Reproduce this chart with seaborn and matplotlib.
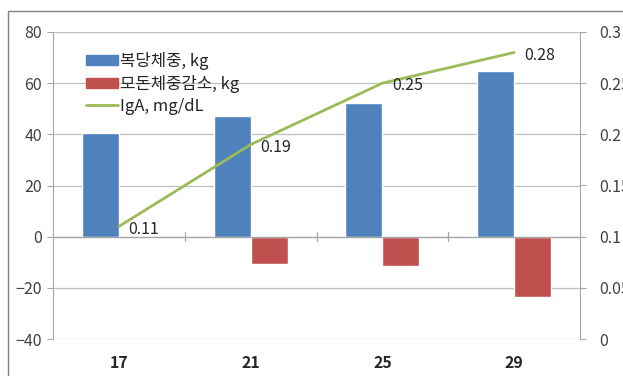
import numpy as np
import pandas as pd
import seaborn as sns
import matplotlib.pyplot as plt
from matplotlib.patches import Rectangle, Patch
from matplotlib.lines import Line2D

# values
days = ['17', '21', '25', '29']
gain = [40.5, 47, 52.3, 64.8]          # 복당체중, kg
sow_loss = [0, -10.5, -11.3, -23.4]    # 모돈체중감소, kg
iga = [0.11, 0.19, 0.25, 0.28]         # IgA, mg/dL

series_names = ['복당체중, kg', '모돈체중감소, kg', 'IgA, mg/dL']
blue, red, green = '#4F81BD', '#C0504D', '#9BBB59'

df = pd.DataFrame({
    'day': days * 2,
    'value': gain + sow_loss,
    'series': [series_names[0]] * 4 + [series_names[1]] * 4,
})

sns.set_style('white')
plt.rcParams['font.family'] = ['Noto Sans CJK KR', 'DejaVu Sans']

fig = plt.figure(figsize=(6.23, 3.76), dpi=100)
ax = fig.add_axes([53 / 623, 37 / 376, 527 / 623, 307 / 376])

sns.barplot(data=df, x='day', y='value', hue='series', order=days,
            palette=[blue, red], width=0.56, gap=0, saturation=1,
            legend=False, ax=ax)

ax.set_ylim(-40, 80)
ax.set_yticks(np.arange(-40, 81, 20))
ax.set_xlim(-0.5, 3.5)
ax.set_xlabel('')
ax.set_ylabel('')
ax.grid(axis='y', color='#BFBFBF', lw=0.9)
ax.set_axisbelow(True)
for s in ['top', 'right', 'bottom']:
    ax.spines[s].set_visible(False)
ax.spines['left'].set_color('#A6A6A6')
ax.tick_params(axis='y', left=True, length=4, color='#A6A6A6', labelsize=11.5,
               labelcolor='#404040', pad=4)
ax.tick_params(axis='x', bottom=False, labelsize=11.5, pad=8)
for lab in ax.get_xticklabels():
    lab.set_fontweight('bold')

# category axis drawn at zero with tick marks between categories
ax.axhline(0, color='#A6A6A6', lw=0.9, zorder=1)
for xb in [0.5, 1.5, 2.5]:
    ax.plot([xb, xb], [-1.8, 1.8], color='#A6A6A6', lw=0.9, zorder=1)

ax2 = ax.twinx()
sns.lineplot(x=np.arange(len(days)), y=iga, color=green, lw=2, ax=ax2)
ax2.set_ylim(0, 0.3)
ax2.set_yticks(np.arange(0, 0.31, 0.05))
ax2.set_yticklabels(['0', '0.05', '0.1', '0.15', '0.2', '0.25', '0.3'])
for s in ['top', 'left', 'bottom']:
    ax2.spines[s].set_visible(False)
ax2.spines['right'].set_color('#A6A6A6')
ax2.tick_params(axis='y', right=True, length=4, color='#A6A6A6', labelsize=11.5,
                labelcolor='#404040', pad=10)
for i, v in enumerate(iga):
    ax2.annotate(f'{v:.2f}', (i, v), xytext=(7, -2), textcoords='offset points',
                 va='center', ha='left', fontsize=11.5, color='#262626')

handles = [Patch(color=blue), Patch(color=red), Line2D([0], [0], color=green, lw=2)]
ax2.legend(handles, series_names, loc='upper left', bbox_to_anchor=(0.035, 0.985),
           frameon=False, fontsize=12, handlelength=1.9, handleheight=0.55,
           handletextpad=0.1, labelspacing=0.3, labelcolor='#262626')

# outer chart frame (cropped at right and bottom)
fig.patches.append(Rectangle((8 / 623, -0.1), 1.0, 1.1 - 11 / 376, fill=False,
                             edgecolor='#808080', lw=1, transform=fig.transFigure))

fig.savefig('out.png', dpi=100)
